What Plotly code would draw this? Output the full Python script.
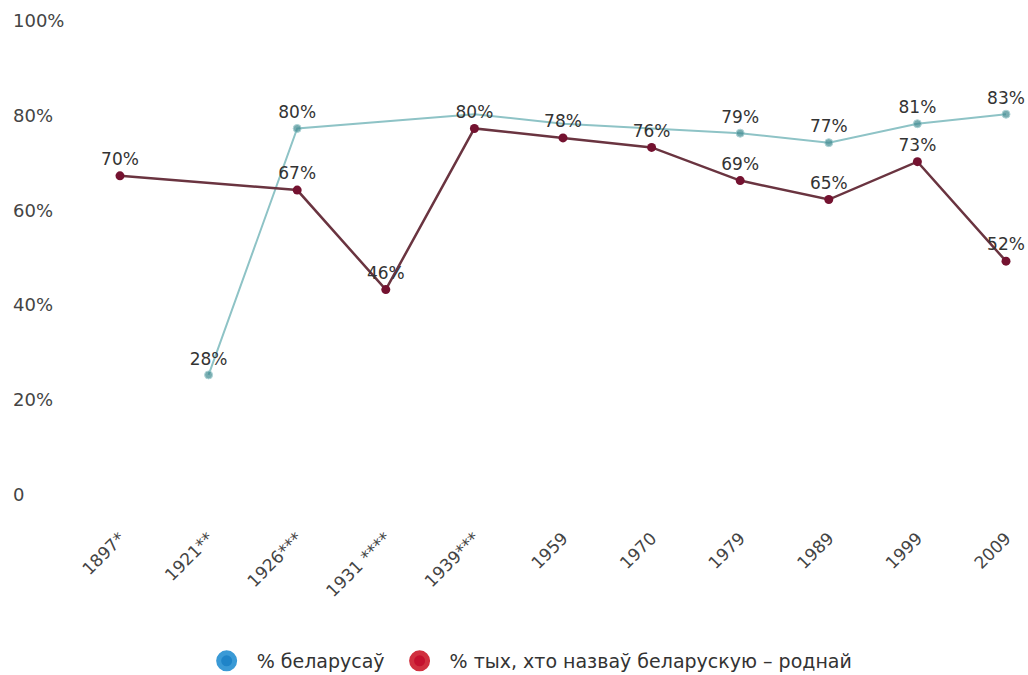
import plotly.graph_objects as go

years = ["1897*", "1921**", "1926***", "1931 ****", "1939***", "1959", "1970", "1979", "1989", "1999", "2009"]
belarusians = [None, 28, 80, None, 83, 81, 80, 79, 77, 81, 83]
belarusians_text = ["", "28%", "80%", "", "", "", "", "79%", "77%", "81%", "83%"]
native = [70, None, 67, 46, 80, 78, 76, 69, 65, 73, 52]
native_text = ["70%", "", "67%", "46%", "80%", "78%", "76%", "69%", "65%", "73%", "52%"]
y_ticks = [0, 20, 40, 60, 80, 100]
y_tick_text = ["0", "20%", "40%", "60%", "80%", "100%"]
legend_names = ["% беларусаў", "% тых, хто назваў беларускую – роднай"]

font_family = "DejaVu Sans, sans-serif"
txt_col = "#333333"
blue_marker_sizes = [8, 8, 8, 8, 0, 0, 0, 8, 8, 8, 8]

fig = go.Figure()
fig.add_trace(go.Scatter(
    x=years, y=belarusians, mode="lines+markers+text", connectgaps=True,
    text=belarusians_text, textposition="top center",
    textfont=dict(size=17, color=txt_col, family=font_family),
    line=dict(color="#8ec3c6", width=2),
    marker=dict(color="#3f8a90", size=blue_marker_sizes),
    showlegend=False, cliponaxis=False,
))
fig.add_trace(go.Scatter(
    x=years, y=native, mode="lines+markers+text", connectgaps=True,
    text=native_text, textposition="top center",
    textfont=dict(size=17, color=txt_col, family=font_family),
    line=dict(color="#6a3440", width=2.5),
    marker=dict(color="#741230", size=9),
    showlegend=False, cliponaxis=False,
))
# legend entries
fig.add_trace(go.Scatter(x=[None], y=[None], mode="markers", name=legend_names[0],
                         marker=dict(color="#1f84c8", size=16,
                                     line=dict(color="#3a9ad6", width=5))))
fig.add_trace(go.Scatter(x=[None], y=[None], mode="markers", name=legend_names[1],
                         marker=dict(color="#c4112e", size=16,
                                     line=dict(color="#d0303f", width=5))))

fig.update_layout(
    width=1028, height=675,
    margin=dict(l=8, r=8, t=0, b=163, autoexpand=False),
    paper_bgcolor="white", plot_bgcolor="white",
    font=dict(family=font_family, color=txt_col, size=14),
    legend=dict(orientation="h", x=0.513, xanchor="center", y=-0.291, yanchor="middle",
                font=dict(size=19, color=txt_col), itemsizing="trace", itemwidth=50),
    xaxis=dict(type="category", categoryorder="array", categoryarray=years,
               range=[-1.264, 10.158], tickangle=-45, showgrid=False, showline=False,
               zeroline=False, ticks="", automargin=False, ticklabelstandoff=12,
               tickfont=dict(size=17, color="#444")),
    yaxis=dict(range=[-0.92, 107.1], tickvals=y_ticks, ticktext=y_tick_text,
               ticklabelposition="inside", ticklabelshift=-13, ticklabelstandoff=2,
               showgrid=False, zeroline=False, showline=False, ticks="", automargin=False,
               tickfont=dict(size=18, color="#444")),
)

fig.write_html("out.html", config={"displayModeBar": False},
               post_script="document.body.style.margin='0';")
